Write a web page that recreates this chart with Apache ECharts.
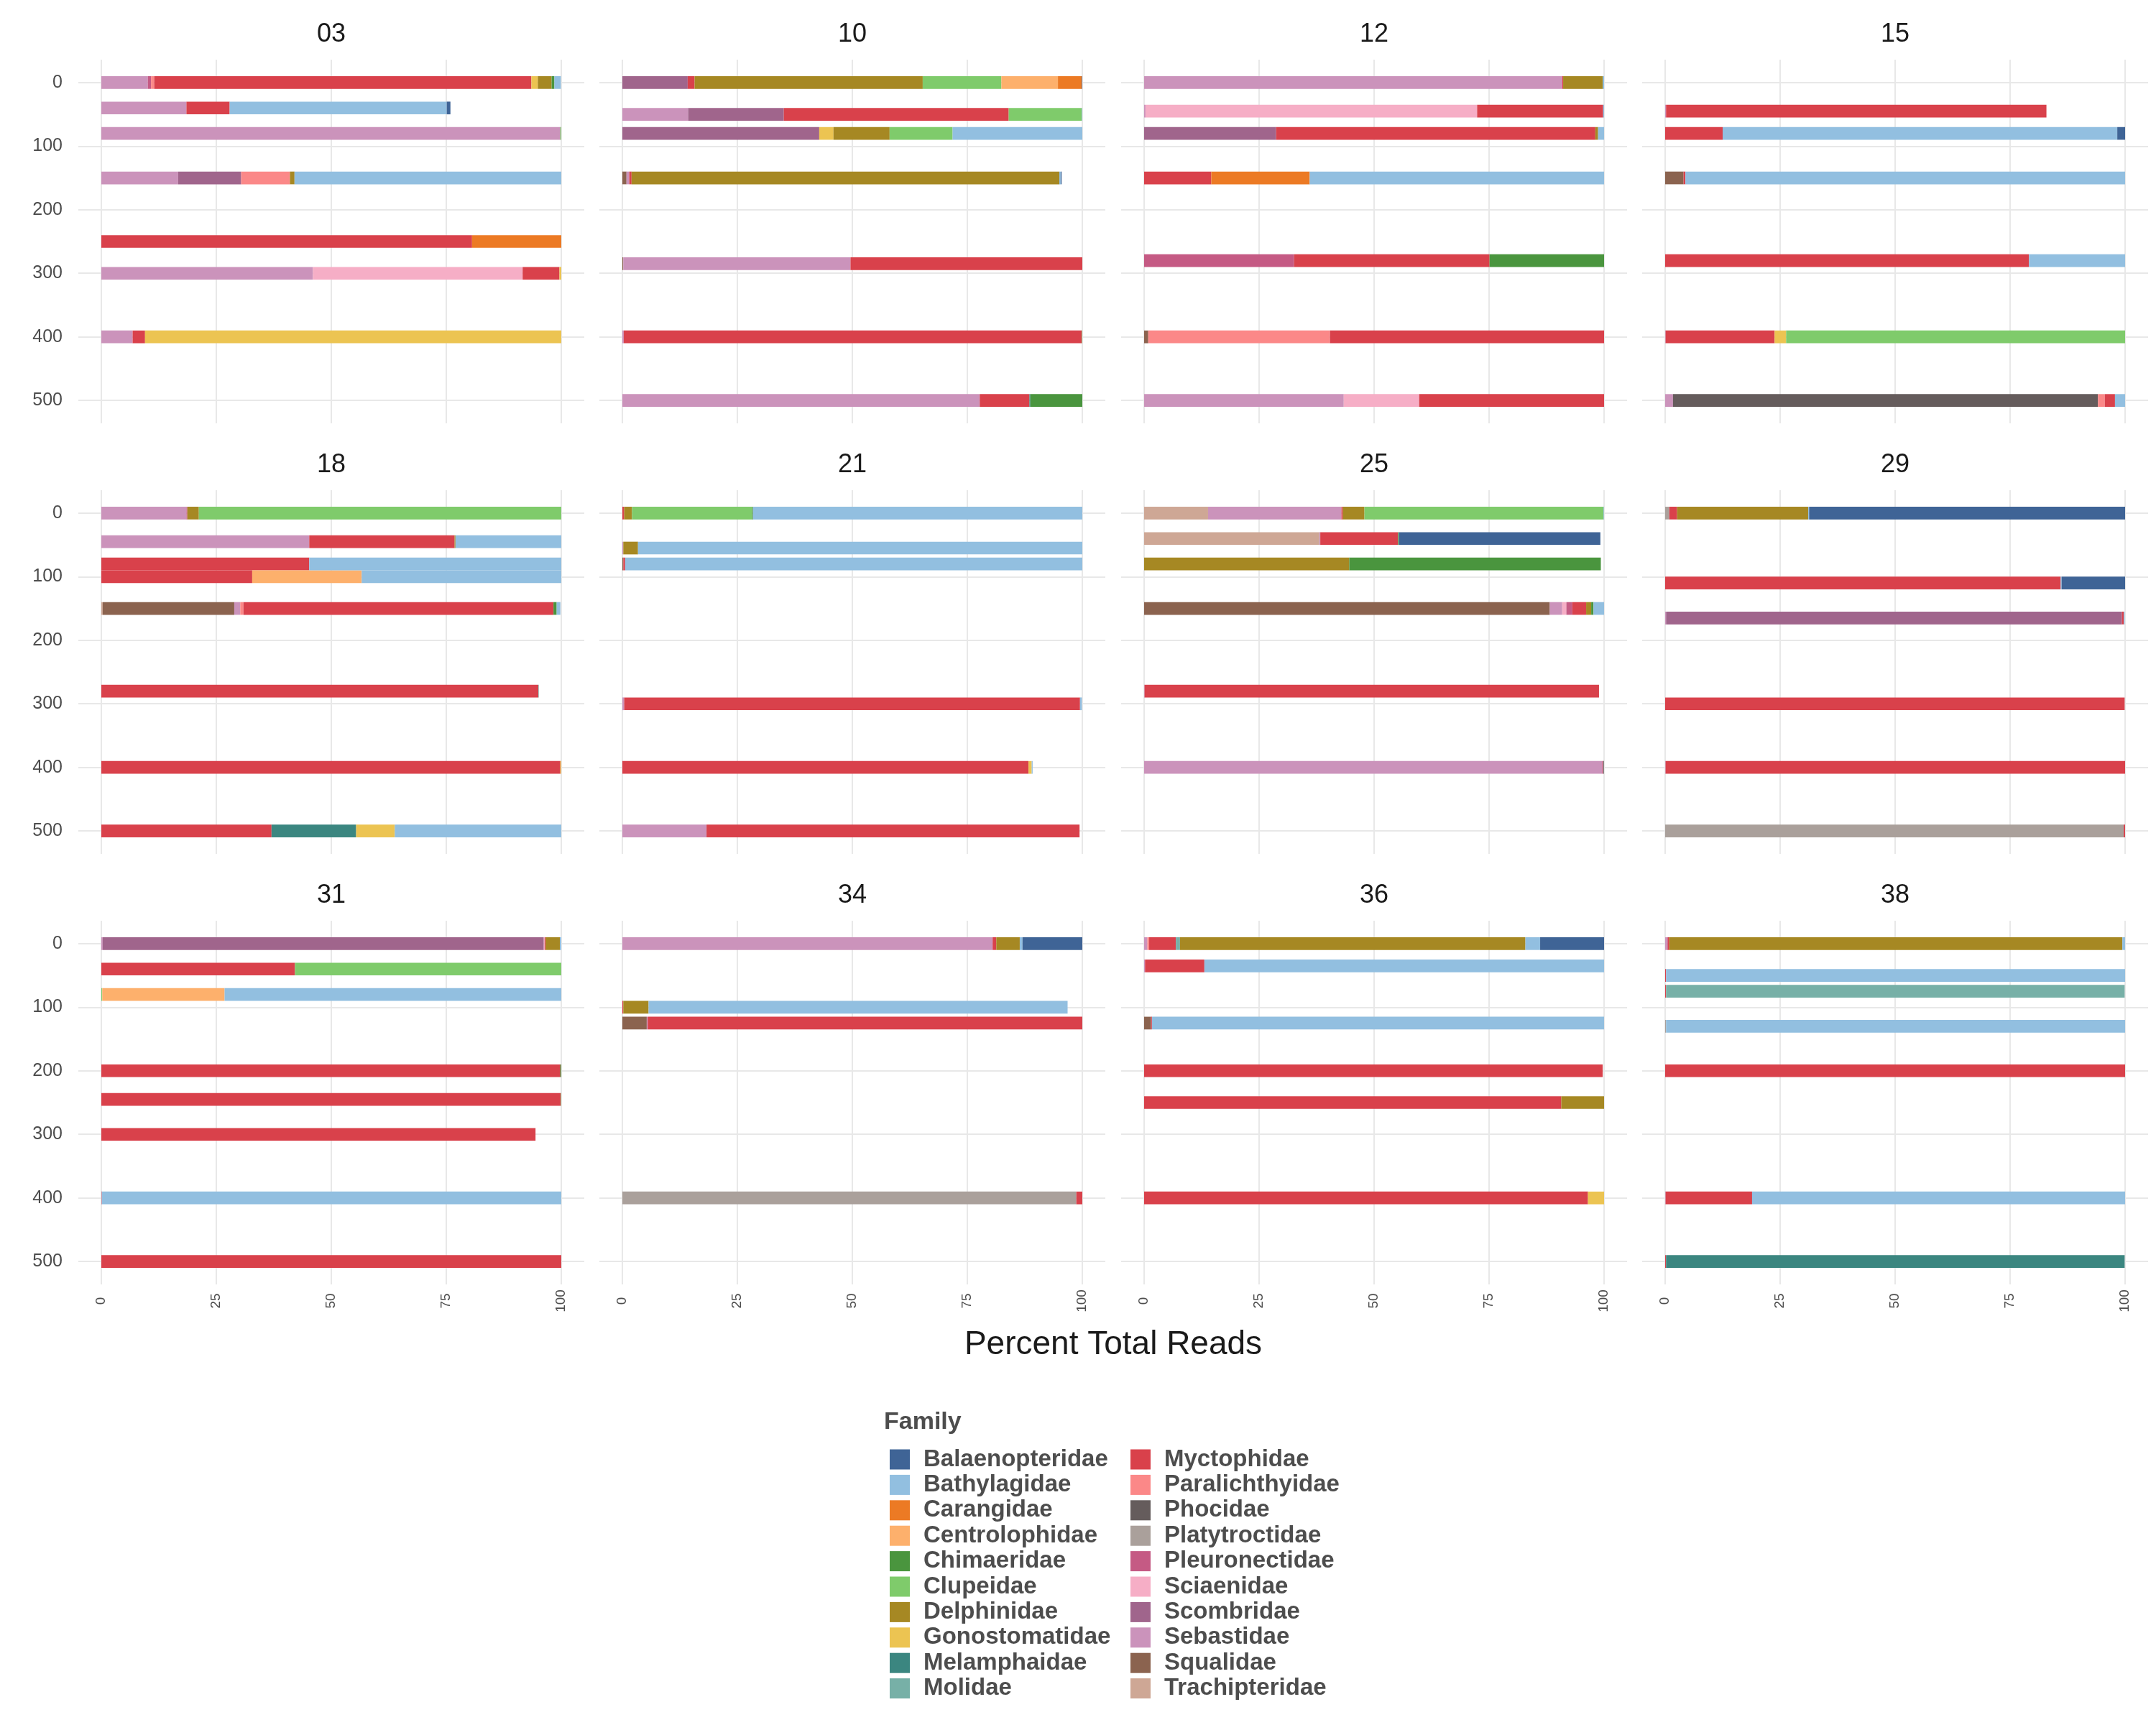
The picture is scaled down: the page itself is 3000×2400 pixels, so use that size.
<!DOCTYPE html>
<html><head><meta charset="utf-8">
<script src="https://cdn.jsdelivr.net/npm/echarts@6/dist/echarts.min.js"></script>
<style>html,body{margin:0;padding:0;background:#fff}#chart{width:3000px;height:2400px}</style>
</head><body><div id="chart"></div>
<script>
// ---------- data ----------
const families = ['Balaenopteridae','Bathylagidae','Carangidae','Centrolophidae','Chimaeridae','Clupeidae','Delphinidae','Gonostomatidae','Melamphaidae','Molidae',
  'Myctophidae','Paralichthyidae','Phocidae','Platytroctidae','Pleuronectidae','Sciaenidae','Scombridae','Sebastidae','Squalidae','Trachipteridae'];
const familyColors = ['#3f6496','#92bfe0','#ec7a24','#fdb06c','#4a953e','#7fcb6b','#a68823','#ecc452','#3b8680','#77b0a7',
  '#d9414b','#fb8888','#655c5c','#aaa09b','#c55a84','#f6aec6','#a0658c','#cb93bb','#8b634f','#cea795'];
const stations = ['03','10','12','15','18','21','25','29','31','34','36','38'];
const xTicks = [0,25,50,75,100];
const depthTicks = [0,100,200,300,400,500];

// [depth, family, percent total reads]
const st03 = [
 [0,'Sebastidae',10.1],[0,'Pleuronectidae',0.7],[0,'Paralichthyidae',0.7],[0,'Myctophidae',82.0],[0,'Gonostomatidae',1.4],[0,'Delphinidae',3.0],[0,'Chimaeridae',0.6],[0,'Bathylagidae',1.4],
 [40,'Sebastidae',18.5],[40,'Myctophidae',9.4],[40,'Bathylagidae',47.2],[40,'Balaenopteridae',0.8],
 [80,'Sebastidae',99.8],[80,'Clupeidae',0.2],
 [150,'Sebastidae',16.7],[150,'Scombridae',13.7],[150,'Paralichthyidae',10.6],[150,'Delphinidae',1.0],[150,'Bathylagidae',58.0],
 [250,'Myctophidae',80.6],[250,'Carangidae',19.4],
 [300,'Sebastidae',46.0],[300,'Sciaenidae',45.6],[300,'Myctophidae',8.0],[300,'Gonostomatidae',0.4],
 [400,'Sebastidae',6.8],[400,'Myctophidae',2.7],[400,'Gonostomatidae',90.5]
];
const st10 = [
 [0,'Scombridae',14.2],[0,'Myctophidae',1.5],[0,'Delphinidae',49.6],[0,'Clupeidae',17.1],[0,'Centrolophidae',12.3],[0,'Carangidae',5.2],[0,'Balaenopteridae',0.1],
 [50,'Sebastidae',14.3],[50,'Scombridae',20.8],[50,'Myctophidae',48.9],[50,'Clupeidae',15.9],[50,'Bathylagidae',0.1],
 [80,'Scombridae',42.8],[80,'Gonostomatidae',3.1],[80,'Delphinidae',12.2],[80,'Clupeidae',13.7],[80,'Bathylagidae',28.2],
 [150,'Squalidae',0.9],[150,'Sebastidae',0.6],[150,'Myctophidae',0.5],[150,'Delphinidae',93.0],[150,'Bathylagidae',0.3],[150,'Balaenopteridae',0.2],
 [285,'Squalidae',0.2],[285,'Sebastidae',49.4],[285,'Myctophidae',50.4],
 [400,'Sebastidae',0.3],[400,'Myctophidae',99.6],[400,'Clupeidae',0.1],
 [500,'Sebastidae',77.7],[500,'Myctophidae',10.8],[500,'Melamphaidae',0.2],[500,'Chimaeridae',11.3]
];
const st12 = [
 [0,'Sebastidae',90.9],[0,'Myctophidae',0.2],[0,'Delphinidae',8.6],[0,'Bathylagidae',0.3],
 [45,'Sebastidae',0.3],[45,'Sciaenidae',72.1],[45,'Myctophidae',27.4],[45,'Bathylagidae',0.2],
 [80,'Scombridae',28.7],[80,'Myctophidae',69.4],[80,'Delphinidae',0.6],[80,'Bathylagidae',1.3],
 [150,'Myctophidae',14.6],[150,'Carangidae',21.4],[150,'Bathylagidae',64.0],
 [280,'Pleuronectidae',32.6],[280,'Myctophidae',42.5],[280,'Chimaeridae',24.9],
 [400,'Squalidae',0.9],[400,'Paralichthyidae',39.5],[400,'Myctophidae',59.6],
 [500,'Sebastidae',43.4],[500,'Sciaenidae',16.4],[500,'Myctophidae',40.2]
];
const st15 = [
 [45,'Sebastidae',0.2],[45,'Myctophidae',82.7],
 [80,'Myctophidae',12.5],[80,'Bathylagidae',85.8],[80,'Balaenopteridae',1.7],
 [150,'Squalidae',4.0],[150,'Myctophidae',0.4],[150,'Bathylagidae',95.6],
 [280,'Myctophidae',79.1],[280,'Bathylagidae',20.9],
 [400,'Sebastidae',0.1],[400,'Myctophidae',23.7],[400,'Gonostomatidae',2.5],[400,'Clupeidae',73.7],
 [500,'Sebastidae',1.7],[500,'Phocidae',92.4],[500,'Paralichthyidae',1.5],[500,'Myctophidae',2.2],[500,'Bathylagidae',2.2]
];
const st18 = [
 [0,'Sebastidae',18.5],[0,'Pleuronectidae',0.2],[0,'Delphinidae',2.5],[0,'Clupeidae',78.8],
 [45,'Sebastidae',45.2],[45,'Myctophidae',31.6],[45,'Delphinidae',0.2],[45,'Bathylagidae',23.0],
 [80,'Myctophidae',45.2],[80,'Bathylagidae',54.8],
 [100,'Myctophidae',32.8],[100,'Centrolophidae',23.8],[100,'Bathylagidae',43.4],
 [150,'Trachipteridae',0.3],[150,'Squalidae',28.6],[150,'Sebastidae',1.3],[150,'Paralichthyidae',0.7],[150,'Myctophidae',67.4],[150,'Chimaeridae',0.7],[150,'Bathylagidae',0.8],
 [280,'Myctophidae',95.0],[280,'Molidae',0.1],
 [400,'Myctophidae',99.8],[400,'Gonostomatidae',0.2],
 [500,'Myctophidae',37.0],[500,'Melamphaidae',18.4],[500,'Gonostomatidae',8.4],[500,'Bathylagidae',36.2]
];
const st21 = [
 [0,'Myctophidae',0.4],[0,'Delphinidae',1.7],[0,'Clupeidae',26.1],[0,'Chimaeridae',0.2],[0,'Bathylagidae',71.6],
 [55,'Sebastidae',0.2],[55,'Delphinidae',3.2],[55,'Bathylagidae',96.6],
 [80,'Squalidae',0.2],[80,'Myctophidae',0.4],[80,'Bathylagidae',99.4],
 [300,'Sebastidae',0.4],[300,'Myctophidae',99.1],[300,'Bathylagidae',0.4],
 [400,'Myctophidae',88.3],[400,'Gonostomatidae',0.7],[400,'Bathylagidae',0.2],
 [500,'Sebastidae',18.3],[500,'Myctophidae',81.1]
];
const st25 = [
 [0,'Trachipteridae',13.9],[0,'Sebastidae',29.0],[0,'Myctophidae',0.3],[0,'Delphinidae',4.7],[0,'Clupeidae',52.0],[0,'Bathylagidae',0.1],
 [40,'Trachipteridae',38.1],[40,'Sebastidae',0.2],[40,'Myctophidae',16.9],[40,'Chimaeridae',0.2],[40,'Balaenopteridae',43.8],
 [80,'Delphinidae',44.6],[80,'Chimaeridae',54.7],
 [150,'Squalidae',88.2],[150,'Sebastidae',2.7],[150,'Sciaenidae',0.9],[150,'Pleuronectidae',1.3],[150,'Myctophidae',3.0],[150,'Delphinidae',1.1],[150,'Chimaeridae',0.5],[150,'Bathylagidae',2.3],
 [280,'Sebastidae',0.1],[280,'Myctophidae',98.8],
 [400,'Sebastidae',99.7],[400,'Myctophidae',0.2],[400,'Melamphaidae',0.1]
];
const st29 = [
 [0,'Platytroctidae',0.9],[0,'Myctophidae',1.7],[0,'Delphinidae',28.5],[0,'Bathylagidae',0.2],[0,'Balaenopteridae',68.7],
 [110,'Myctophidae',86.0],[110,'Bathylagidae',0.2],[110,'Balaenopteridae',13.8],
 [165,'Sebastidae',0.2],[165,'Scombridae',99.1],[165,'Myctophidae',0.4],[165,'Bathylagidae',0.2],
 [300,'Myctophidae',99.9],
 [400,'Sebastidae',0.1],[400,'Myctophidae',99.9],
 [500,'Platytroctidae',99.7],[500,'Myctophidae',0.3]
];
const st31 = [
 [0,'Sebastidae',0.3],[0,'Scombridae',95.9],[0,'Sciaenidae',0.2],[0,'Myctophidae',0.2],[0,'Delphinidae',3.1],[0,'Bathylagidae',0.3],
 [40,'Myctophidae',42.1],[40,'Clupeidae',57.9],
 [80,'Clupeidae',0.2],[80,'Centrolophidae',26.6],[80,'Bathylagidae',73.2],
 [200,'Myctophidae',99.8],[200,'Chimaeridae',0.2],
 [245,'Myctophidae',99.9],[245,'Clupeidae',0.1],
 [300,'Myctophidae',94.4],
 [400,'Myctophidae',0.1],[400,'Bathylagidae',99.9],
 [500,'Myctophidae',100]
];
const st34 = [
 [0,'Sebastidae',80.5],[0,'Myctophidae',0.8],[0,'Delphinidae',5.1],[0,'Bathylagidae',0.6],[0,'Balaenopteridae',13.0],
 [100,'Myctophidae',0.2],[100,'Delphinidae',5.5],[100,'Bathylagidae',91.1],
 [125,'Squalidae',5.3],[125,'Sebastidae',0.2],[125,'Myctophidae',94.5],
 [400,'Platytroctidae',98.7],[400,'Myctophidae',1.3]
];
const st36 = [
 [0,'Sebastidae',0.7],[0,'Paralichthyidae',0.4],[0,'Myctophidae',5.8],[0,'Molidae',0.9],[0,'Delphinidae',75.1],[0,'Bathylagidae',3.2],[0,'Balaenopteridae',13.9],
 [35,'Sebastidae',0.2],[35,'Myctophidae',12.9],[35,'Bathylagidae',86.9],
 [125,'Squalidae',1.5],[125,'Myctophidae',0.2],[125,'Bathylagidae',98.3],
 [200,'Myctophidae',99.7],
 [250,'Myctophidae',90.7],[250,'Delphinidae',9.3],
 [400,'Myctophidae',96.5],[400,'Gonostomatidae',3.5]
];
const st38 = [
 [0,'Sebastidae',0.4],[0,'Pleuronectidae',0.2],[0,'Myctophidae',0.3],[0,'Delphinidae',98.5],[0,'Bathylagidae',0.6],
 [50,'Myctophidae',0.2],[50,'Bathylagidae',99.8],
 [75,'Myctophidae',0.2],[75,'Molidae',99.7],
 [130,'Platytroctidae',0.2],[130,'Bathylagidae',99.8],
 [200,'Myctophidae',100],
 [400,'Sebastidae',0.1],[400,'Myctophidae',18.8],[400,'Bathylagidae',81.1],
 [500,'Myctophidae',0.2],[500,'Melamphaidae',99.7]
];
const stationData = [st03, st10, st12, st15, st18, st21, st25, st29, st31, st34, st36, st38];

// ---------- layout / style ----------
const FONT = 'Liberation Sans, Arial, Helvetica, sans-serif';
const BAR_DEPTH = 20;              // bar thickness in depth units
const colLeft = [109, 834, 1560, 2285];
const rowTop = [83, 682, 1281];
const W = 704, H = 506;

const stackOrder = families.slice().sort().reverse();   // left -> right stacking

function renderItem(params, api) {
  const d = api.value(2);
  const p0 = api.coord([api.value(0), d]);
  const p1 = api.coord([api.value(1), d]);
  const h = api.size([0, BAR_DEPTH], [api.value(0), d])[1];
  return {
    type: 'rect',
    shape: { x: p0[0], y: p0[1] - h / 2, width: p1[0] - p0[0], height: h },
    style: { fill: api.visual('color') }
  };
}

const grids = [], xAxes = [], yAxes = [], series = [], graphics = [];
stations.forEach((st, i) => {
  const r = Math.floor(i / 4), c = i % 4;
  grids.push({ left: colLeft[c], top: rowTop[r], width: W, height: H });
  xAxes.push({
    type: 'value', gridIndex: i, min: -5, max: 105,
    axisLine: { show: false },
    axisTick: { show: false, customValues: xTicks },
    axisLabel: { show: r === 2, customValues: xTicks, rotate: 90, align: 'center', verticalAlign: 'middle',
                 margin: 23, fontSize: 19, color: '#4d4d4d', fontFamily: FONT },
    splitLine: { show: true, lineStyle: { color: '#e8e8e8', width: 2 } }
  });
  yAxes.push({
    type: 'value', gridIndex: i, inverse: true, min: -36, max: 536,
    axisLine: { show: false },
    axisTick: { show: false, customValues: depthTicks },
    axisLabel: { show: c === 0, customValues: depthTicks, margin: 22, fontSize: 25, color: '#4d4d4d', fontFamily: FONT },
    splitLine: { show: true, lineStyle: { color: '#e8e8e8', width: 2 } }
  });
  graphics.push({
    type: 'text', x: colLeft[c] + W / 2, y: rowTop[r] - 35,
    style: { text: st, fill: '#1a1a1a', fontSize: 36, fontFamily: FONT, align: 'center', verticalAlign: 'middle' }
  });

  const rows = stationData[i];
  const depths = [...new Set(rows.map(d => d[0]))];
  const perFam = {};
  depths.forEach(dep => {
    let acc = 0;
    stackOrder.forEach(f => {
      rows.filter(d => d[0] === dep && d[1] === f).forEach(d => {
        (perFam[f] = perFam[f] || []).push([acc, acc + d[2], dep]);
        acc += d[2];
      });
    });
  });
  stackOrder.forEach(f => {
    if (!perFam[f]) return;
    series.push({
      type: 'custom', name: f, xAxisIndex: i, yAxisIndex: i,
      itemStyle: { color: familyColors[families.indexOf(f)] },
      renderItem: renderItem, data: perFam[f],
      encode: { x: [0, 1], y: 2 }, silent: true, animation: false
    });
  });
});

graphics.push({
  type: 'text', x: 1549, y: 1871,
  style: { text: 'Percent Total Reads', fill: '#1a1a1a', fontSize: 46, fontFamily: FONT, align: 'center', verticalAlign: 'middle' }
});
graphics.push({
  type: 'text', x: 1230, y: 1979,
  style: { text: 'Family', fill: '#4d4d4d', fontSize: 34, fontWeight: 'bold', fontFamily: FONT, align: 'left', verticalAlign: 'middle' }
});

function legendBlock(names, left) {
  return {
    data: names.map(n => ({ name: n, icon: 'rect', itemStyle: { color: familyColors[families.indexOf(n)] } })),
    orient: 'vertical', left: left, top: 2009, padding: 5,
    itemWidth: 28, itemHeight: 28, itemGap: 2.4, selectedMode: false,
    textStyle: { fontSize: 33, fontWeight: 'bold', color: '#4d4d4d', fontFamily: FONT, lineHeight: 28, padding: [0, 0, 0, 14] }
  };
}

const chart = echarts.init(document.getElementById('chart'), null, { renderer: 'canvas' });
chart.setOption({
  backgroundColor: '#ffffff',
  animation: false,
  grid: grids, xAxis: xAxes, yAxis: yAxes, series: series,
  legend: [legendBlock(families.slice(0, 10), 1233), legendBlock(families.slice(10), 1568)],
  graphic: graphics
});
</script></body></html>
